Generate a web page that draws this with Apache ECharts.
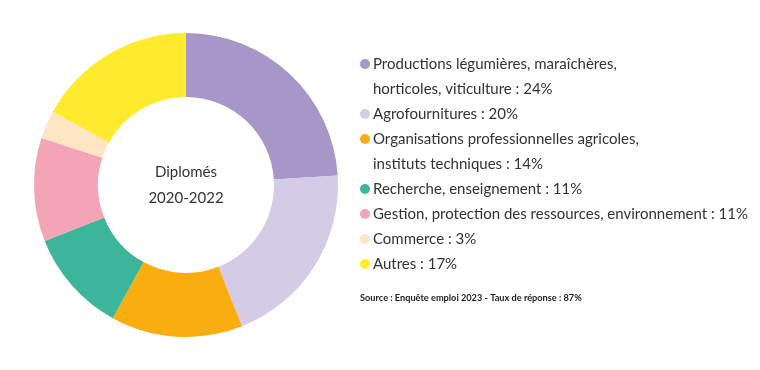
<!DOCTYPE html>
<html>
<head>
<meta charset="utf-8">
<script src="https://cdn.jsdelivr.net/npm/echarts@6/dist/echarts.min.js"></script>
<style>html,body{margin:0;padding:0;background:#fff;}#c{width:760px;height:370px;}</style>
</head>
<body>
<div id="c"></div>
<script>
const categories = [
  'Productions légumières, maraîchères,\nhorticoles, viticulture',
  'Agrofournitures',
  'Organisations professionnelles agricoles,\ninstituts techniques',
  'Recherche, enseignement',
  'Gestion, protection des ressources, environnement',
  'Commerce',
  'Autres'
];
const values = [24, 20, 14, 11, 11, 3, 17];
const colors = ['#A996C8', '#D4CBE6', '#F9AD0F', '#3DB59A', '#F3A5B5', '#FEE5C3', '#FFEB2E'];
const centerLines = ['Diplomés', '2020-2022'];
const sourceText = 'Source : Enquête emploi 2023 - Taux de réponse : 87%';

const FONT = 'Lato';
const LH = 25;
const firstLineY = [64, 114, 139, 189, 214, 239, 264];

const legends = categories.map((name, i) => {
  const lines = name.split('\n').length;
  return {
    orient: 'vertical',
    left: 360,
    top: firstLineY[i] - (2 * lines - 1) * LH / 2,
    icon: 'circle',
    itemWidth: 10,
    itemHeight: 10,
    itemGap: 0,
    selectedMode: false,
    padding: 0,
    formatter: (n) => {
      const txt = n + ' : ' + values[categories.indexOf(n)] + '%';
      return lines > 1 ? ' \n' + txt : txt;
    },
    data: [{
      name: name,
      textStyle: {
        fontFamily: FONT,
        fontSize: 15,
        color: '#333333',
        lineHeight: LH,
        padding: [0, 0, 0, -2]
      }
    }]
  };
});

const chart = echarts.init(document.getElementById('c'), null, {renderer: 'canvas'});
chart.setOption({
  animation: false,
  color: colors,
  legend: legends,
  title: [{
    text: sourceText,
    left: 360,
    top: 294,
    padding: 0,
    textStyle: {fontFamily: FONT, fontSize: 9.2, fontWeight: 'bold', color: '#222222'}
  }],
  graphic: [{
    type: 'text',
    x: 186,
    y: 185,
    style: {
      text: centerLines.join('\n'),
      align: 'center',
      verticalAlign: 'middle',
      font: '15px ' + FONT,
      lineHeight: 26,
      fill: '#333333'
    }
  }],
  series: [{
    type: 'pie',
    center: [186, 185],
    radius: [88, 152],
    startAngle: 90,
    clockwise: true,
    label: {show: false},
    labelLine: {show: false},
    silent: true,
    data: categories.map((c, i) => ({name: c, value: values[i]}))
  }]
});
</script>
</body>
</html>
